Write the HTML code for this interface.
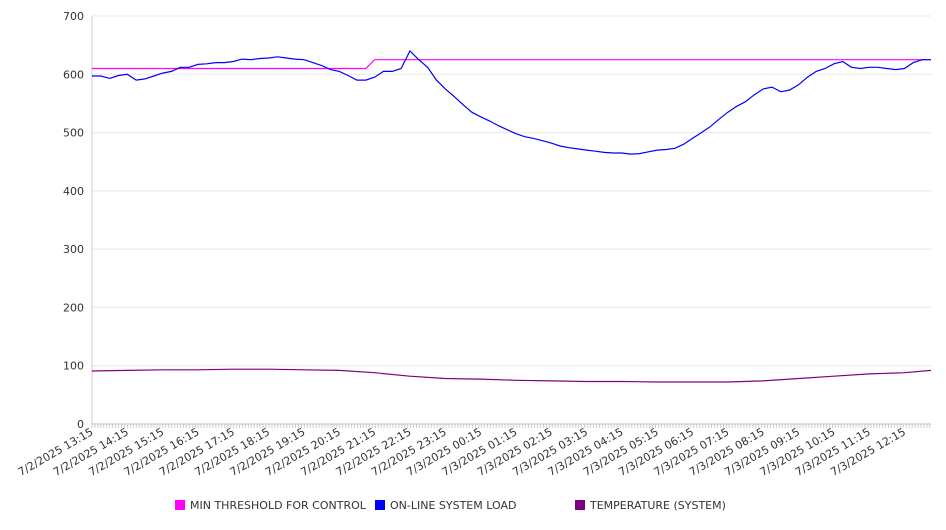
<!DOCTYPE html>
<html><head><meta charset="utf-8"><style>
body{margin:0;background:#fff;font-family:"DejaVu Sans","Liberation Sans",sans-serif;}
svg text{font-family:"DejaVu Sans","Liberation Sans",sans-serif;fill:#333;}
</style></head><body>
<svg id="chart" width="946" height="526" xmlns="http://www.w3.org/2000/svg">
<g id="grid"></g>
<g id="axes"></g>
<g id="series"></g>
<g id="legend">
  <rect x="175" y="500" width="10" height="10" fill="#ff00ff"/>
  <text x="190" y="509" font-size="11">MIN THRESHOLD FOR CONTROL</text>
  <rect x="375" y="500" width="10" height="10" fill="#0000ff"/>
  <text x="390" y="509" font-size="11">ON-LINE SYSTEM LOAD</text>
  <rect x="575" y="500" width="10" height="10" fill="#800080"/>
  <text x="590" y="509" font-size="11">TEMPERATURE (SYSTEM)</text>
</g>
</svg>
<script>
const xLabels=["7/2/2025 13:15","7/2/2025 14:15","7/2/2025 15:15","7/2/2025 16:15","7/2/2025 17:15","7/2/2025 18:15","7/2/2025 19:15","7/2/2025 20:15","7/2/2025 21:15","7/2/2025 22:15","7/2/2025 23:15","7/3/2025 00:15","7/3/2025 01:15","7/3/2025 02:15","7/3/2025 03:15","7/3/2025 04:15","7/3/2025 05:15","7/3/2025 06:15","7/3/2025 07:15","7/3/2025 08:15","7/3/2025 09:15","7/3/2025 10:15","7/3/2025 11:15","7/3/2025 12:15"];
const yTicks=[0,100,200,300,400,500,600,700];
const loadValues=[597,597,593,598,600,590,592,597,602,605,612,612,617,618,620,620,622,626,625,627,628,630,628,626,625,620,615,608,605,598,590,590,595,605,605,610,640,625,612,590,575,562,548,535,527,520,512,505,498,493,490,486,482,477,474,472,470,468,466,465,465,463,464,467,470,471,473,480,490,500,510,523,535,545,553,565,575,578,570,573,582,595,605,610,618,622,612,610,612,612,610,608,610,620,625,625];
const thresholdValues=loadValues.map((v,i)=>i<=31?610:625);
const tempValues=[91,92,93,93,94,94,93,92,88,82,78,77,75,74,73,73,72,72,72,74,78,82,86,88,92];
const L=92,R=931,T=16,B=424,N=loadValues.length;
const NS="http://www.w3.org/2000/svg";
const xS=i=>L+i*(R-L)/(N-1);
const yS=v=>B-v*(B-T)/700;
function mk(tag,attrs,parent){const e=document.createElementNS(NS,tag);for(const k in attrs)e.setAttribute(k,attrs[k]);parent.appendChild(e);return e;}
const grid=document.getElementById('grid'),axes=document.getElementById('axes'),series=document.getElementById('series');
yTicks.forEach(v=>{
  const ln=mk('line',{x1:L,x2:R,y1:yS(v),y2:yS(v),stroke:v===0?'#bbb':'#e8e8e8','stroke-width':1},grid);
  
  
  const t=mk('text',{x:84,y:yS(v)+4,'text-anchor':'end','font-size':11},axes);
  t.textContent=v;
  
  
});
const ya=mk('line',{x1:L,x2:L,y1:T,y2:B,stroke:'#ccc'},axes);


for(let x=L;x<=R;x+=2.95){
  const tk=mk('line',{x1:x,x2:x,y1:B,y2:B+4,stroke:'#ccc'},axes);
  
  
}
xLabels.forEach((s,j)=>{
  const x=xS(j*4);
  const t=mk('text',{x:x+2,y:B+10,'text-anchor':'end','font-size':11,transform:`rotate(-30 ${x+2} ${B+10})`},axes);
  t.textContent=s;
  
  
});
function line(vals,xf,color,name){
  const d=vals.map((v,i)=>(i?'L':'M')+xf(i).toFixed(1)+','+yS(v).toFixed(1)).join('');
  const p=mk('path',{d:d,fill:'none',stroke:color,'stroke-width':1.2},series);
  
  
}
line(thresholdValues,xS,'#ff00ff','threshold-line');
line(loadValues,xS,'#0000ff','load-line');
line(tempValues,j=>xS(Math.min(j*4,N-1)),'#800080','temperature-line');
</script>
</body></html>
